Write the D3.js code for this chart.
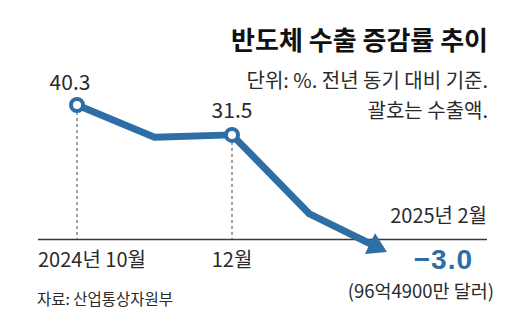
<!DOCTYPE html>
<html><head><meta charset="utf-8">
<script src="https://cdn.jsdelivr.net/npm/d3@7"></script>
<style>
html,body{margin:0;padding:0;background:#fff;}
text{font-family:"Liberation Sans Narrow","Noto Sans CJK KR",sans-serif;}
</style></head>
<body><svg id="c" width="530" height="326"></svg>
<script>
const months = ["2024-10","2024-11","2024-12","2025-01","2025-02"];
const values = [40.3, 30.8, 31.5, 8.2, -3.0];
const markedIdx = [0, 2];
const valueLabels = ["40.3", "", "31.5", "", "−3.0"];
const tickLabels = ["2024년 10월", "", "12월", "", "2025년 2월"];
const titleText = "반도체 수출 증감률 추이";
const subText1 = "단위: %. 전년 동기 대비 기준.";
const subText2 = "괄호는 수출액.";
const amountText = "(96억4900만 달러)";
const sourceText = "자료: 산업통상자원부";

const blue = "#2f6ea5";
const ink = "#2a2a2a";
const svg = d3.select("#c");
const x = d3.scalePoint().domain(months).range([77, 387]);
const y = d3.scaleLinear().domain([-3, 40.3]).range([252, 105]);
const axisY = 239.5;

// title & notes
svg.append("text").attr("x", 488).attr("y", 50).attr("text-anchor", "end")
  .attr("font-size", 26).attr("font-weight", "bold").attr("fill", "#111")
  .style("font-family", "'Noto Sans CJK KR',sans-serif").text(titleText);
svg.append("text").attr("x", 488).attr("y", 88).attr("text-anchor", "end")
  .attr("font-size", 20).attr("fill", ink).text(subText1);
svg.append("text").attr("x", 488).attr("y", 118).attr("text-anchor", "end")
  .attr("font-size", 20).attr("fill", ink).text(subText2);

// axis baseline
svg.append("line").attr("x1", 38).attr("x2", 487).attr("y1", axisY).attr("y2", axisY)
  .attr("stroke", "#3a3a3a").attr("stroke-width", 1.5);

// dashed drop lines
markedIdx.forEach(i => {
  svg.append("line").attr("x1", x(months[i])).attr("x2", x(months[i]))
    .attr("y1", y(values[i]) + 7).attr("y2", axisY)
    .attr("stroke", "#444").attr("stroke-width", 1).attr("stroke-dasharray", "3,3");
});

// line with arrow end
const pts = months.map((m, i) => [x(m), y(values[i])]);
const n = pts.length;
const tip = pts[n - 1], prev = pts[n - 2];
const dx = tip[0] - prev[0], dy = tip[1] - prev[1];
const len = Math.hypot(dx, dy);
const ux = dx / len, uy = dy / len;
const headLen = 19, headHalf = 11.5;
const base = [tip[0] - ux * headLen, tip[1] - uy * headLen];
const linePts = pts.slice(0, n - 1).concat([[tip[0] - ux * (headLen - 2), tip[1] - uy * (headLen - 2)]]);
svg.append("path").attr("d", d3.line()(linePts)).attr("fill", "none")
  .attr("stroke", blue).attr("stroke-width", 7).attr("stroke-linejoin", "round");
svg.append("path")
  .attr("d", d3.line()([
    tip,
    [base[0] - uy * headHalf, base[1] + ux * headHalf],
    [base[0] + uy * headHalf, base[1] - ux * headHalf]
  ]) + "Z")
  .attr("fill", blue);

// markers
markedIdx.forEach(i => {
  svg.append("circle").attr("cx", x(months[i])).attr("cy", y(values[i])).attr("r", 6)
    .attr("fill", "#fff").attr("stroke", blue).attr("stroke-width", 4);
});

// value labels
svg.append("text").attr("x", x(months[0]) - 7).attr("y", 90).attr("text-anchor", "middle")
  .attr("font-size", 21).attr("fill", ink).text(valueLabels[0]);
svg.append("text").attr("x", x(months[2])).attr("y", 118).attr("text-anchor", "middle")
  .attr("font-size", 21).attr("fill", ink).text(valueLabels[2]);
svg.append("text").attr("x", 473).attr("y", 269).attr("text-anchor", "end")
  .attr("font-size", 28).attr("font-weight", "bold").attr("fill", blue).attr("letter-spacing", 1)
  .style("font-family", "'Liberation Sans','Noto Sans CJK KR',sans-serif").text(valueLabels[4]);
svg.append("text").attr("x", 494).attr("y", 298).attr("text-anchor", "end")
  .attr("font-size", 18.5).attr("fill", ink).text(amountText);

// tick labels
svg.append("text").attr("x", 38).attr("y", 267).attr("text-anchor", "start")
  .attr("font-size", 20).attr("fill", ink).text(tickLabels[0]);
svg.append("text").attr("x", x(months[2])).attr("y", 267).attr("text-anchor", "middle")
  .attr("font-size", 20).attr("fill", ink).text(tickLabels[2]);
svg.append("text").attr("x", 487).attr("y", 223).attr("text-anchor", "end")
  .attr("font-size", 20).attr("fill", ink).text(tickLabels[4]);

// source
svg.append("text").attr("x", 37).attr("y", 305).attr("font-size", 15.5).attr("fill", ink).text(sourceText);
</script></body></html>
